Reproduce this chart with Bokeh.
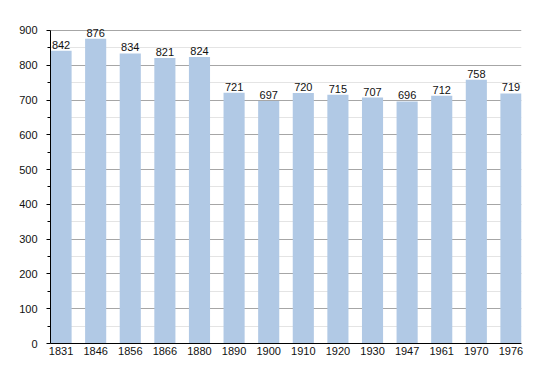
from bokeh.plotting import figure
from bokeh.models import ColumnDataSource, FixedTicker, Range1d, LabelSet
from bokeh.core.properties import value
from bokeh.embed import file_html
from bokeh.resources import INLINE

years = ["1831", "1846", "1856", "1866", "1880", "1890", "1900", "1910",
         "1920", "1930", "1947", "1961", "1970", "1976"]
population = [842, 876, 834, 821, 824, 721, 697, 720, 715, 707, 696, 712, 758, 719]
y_ticks = [0, 100, 200, 300, 400, 500, 600, 700, 800, 900]

idx = list(range(len(years)))
src = ColumnDataSource(dict(x=idx, y=population, lab=[str(v) for v in population]))

BW = 0.61
p = figure(width=550, height=373, output_backend="svg", toolbar_location=None,
           x_range=Range1d(-BW / 2, len(years) - 1 + BW / 2), y_range=Range1d(0, 920),
           min_border_left=50, min_border_right=29, min_border_top=23, min_border_bottom=30)
p.outline_line_color = None
p.background_fill_color = "white"

p.vbar(x="x", top="y", width=BW, source=src, fill_color="#b1c9e5", line_color=None)

labels = LabelSet(x="x", y="y", text="lab", source=src, text_align="center",
                  text_baseline="bottom", y_offset=2, text_font=value("Liberation Sans"),
                  text_font_size="11px", text_color="#111111")
p.add_layout(labels)

# y axis
p.yaxis.ticker = FixedTicker(ticks=y_ticks, minor_ticks=[50 + 100 * i for i in range(9)])
p.yaxis.bounds = (0, 900)
p.yaxis.axis_line_color = "black"
p.yaxis.major_tick_in = 0
p.yaxis.major_tick_out = 4
p.yaxis.minor_tick_in = 0
p.yaxis.minor_tick_out = 3
p.yaxis.major_label_text_font = "Liberation Sans"
p.yaxis.major_label_text_font_size = "11px"
p.yaxis.major_label_text_color = "#111111"
p.yaxis.major_label_standoff = 9

# x axis
p.xaxis.ticker = FixedTicker(ticks=idx)
p.xaxis.major_label_overrides = {i: y for i, y in enumerate(years)}
p.xaxis.axis_line_color = "black"
p.xaxis.major_tick_in = 0
p.xaxis.major_tick_out = 0
p.xaxis.minor_tick_out = 0
p.xaxis.major_label_text_font = "Liberation Sans"
p.xaxis.major_label_text_font_size = "11px"
p.xaxis.major_label_text_color = "#111111"
p.xaxis.major_label_standoff = 3

# grids
p.xgrid.grid_line_color = None
p.ygrid.grid_line_color = "#a6a6a6"
p.ygrid.minor_grid_line_color = "#e4e4e4"
p.ygrid.level = "underlay"

open("out.html", "w").write(file_html(p, INLINE))
